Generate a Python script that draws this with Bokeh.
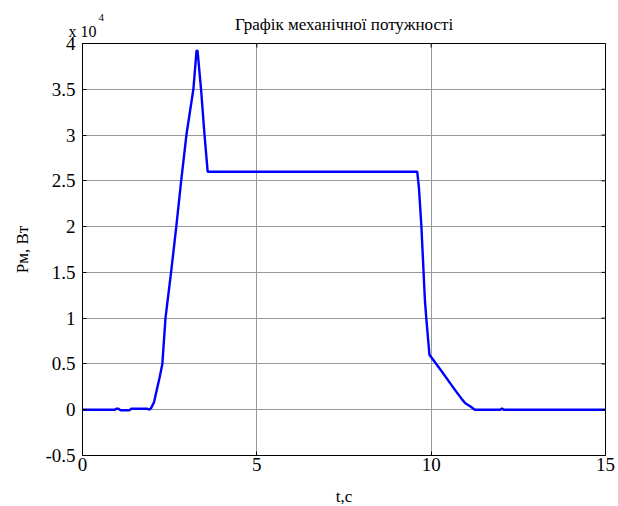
import math
from bokeh.plotting import figure
from bokeh.models import FixedTicker, CustomJSTickFormatter, Label, Range1d
from bokeh.embed import file_html
from bokeh.resources import INLINE

# Mechanical power versus time
t_s = [0.0, 0.93, 0.97, 1.03, 1.09, 1.35, 1.40, 1.86, 1.92, 1.97, 2.05, 2.12,
       2.21, 2.29, 2.38, 2.54, 2.69, 2.83, 2.98, 3.18, 3.27, 3.30, 3.40, 3.50,
       3.59, 3.62, 9.60, 9.65, 9.72, 9.82, 9.86, 9.95, 10.30, 10.60, 10.89,
       10.98, 11.13, 11.25, 11.98, 12.03, 12.08, 15.0]
p_w = [0, 0, 120, 100, -50, -50, 100, 100, 0, 200, 800, 2000,
       3500, 5000, 10000, 15000, 20000, 25000, 30000, 35000, 39200, 39200, 35000, 30000,
       26000, 26000, 26000, 24200, 20000, 12000, 10000, 6000, 4200, 2600, 1100,
       700, 350, 0, 0, 150, 0, 0]

x_ticks = [0, 5, 10, 15]
y_ticks = [-5000, 0, 5000, 10000, 15000, 20000, 25000, 30000, 35000, 40000]

title_text = "Графік механічної потужності"
x_label = "t,c"
y_label = "Pм, Вт"

SERIF = "'Liberation Serif', 'Times New Roman', serif"

X0, X1 = 0, 15
Y0, Y1 = -5000, 40000

p = figure(width=618, height=506, output_backend="svg", toolbar_location=None,
           title=None,
           x_range=Range1d(X0, X1), y_range=Range1d(Y0, Y1),
           min_border_left=82, min_border_right=13, min_border_top=43,
           min_border_bottom=51, background_fill_color="white",
           border_fill_color="white")

p.outline_line_color = "black"
p.outline_line_width = 1

p.xgrid.ticker = FixedTicker(ticks=x_ticks)
p.ygrid.ticker = FixedTicker(ticks=y_ticks)
for g in (p.xgrid[0], p.ygrid[0]):
    g.grid_line_color = "#999999"
    g.grid_line_width = 1

p.line(t_s, p_w, line_color="#0000ff", line_width=2.4)

for ax in (p.xaxis[0], p.yaxis[0]):
    ax.major_tick_in = 4
    ax.major_tick_out = 0
    ax.minor_tick_line_color = None
    ax.axis_line_color = "black"
    ax.major_tick_line_color = "black"
    ax.major_label_text_font = SERIF
    ax.major_label_text_font_size = "19px"
    ax.major_label_text_color = "black"
    ax.axis_label_text_font = SERIF
    ax.axis_label_text_font_size = "17px"
    ax.axis_label_text_font_style = "normal"
    ax.axis_label_text_color = "black"

p.xaxis[0].ticker = FixedTicker(ticks=x_ticks)
p.yaxis[0].ticker = FixedTicker(ticks=y_ticks)
p.yaxis[0].formatter = CustomJSTickFormatter(code="return String(tick / 10000);")
p.yaxis[0].axis_label = y_label
p.xaxis[0].major_label_standoff = 2
p.yaxis[0].major_label_standoff = 7
p.yaxis[0].axis_label_standoff = 10

# box ticks on the right and top edges
p.ray(x=[X1] * len(y_ticks), y=y_ticks, length=4, length_units="screen",
      angle=math.pi, line_color="black", line_width=1)
p.ray(x=x_ticks, y=[Y1] * len(x_ticks), length=4, length_units="screen",
      angle=-math.pi / 2, line_color="black", line_width=1)

# title and the scale factor note, anchored to the top edge of the axes box
p.add_layout(Label(x=(X0 + X1) / 2, y=Y1, y_offset=19, text=title_text,
                   text_align="center", text_baseline="alphabetic",
                   text_font=SERIF, text_font_size="17px", text_color="black"),
             "above")
p.add_layout(Label(x=X0, y=Y1, x_offset=-14, y_offset=12, text="x 10",
                   text_font=SERIF, text_font_size="16px", text_color="black",
                   text_baseline="alphabetic"), "above")
p.add_layout(Label(x=X0, y=Y1, x_offset=16, y_offset=26, text="4",
                   text_font=SERIF, text_font_size="11px", text_color="black",
                   text_baseline="alphabetic"), "right")

# x axis caption, anchored below the axes box
p.add_layout(Label(x=(X0 + X1) / 2, y=Y0, y_offset=-41, text=x_label,
                   text_align="center", text_baseline="alphabetic",
                   text_font=SERIF, text_font_size="17px", text_color="black"),
             "below")

open("out.html", "w").write(file_html(p, INLINE))
